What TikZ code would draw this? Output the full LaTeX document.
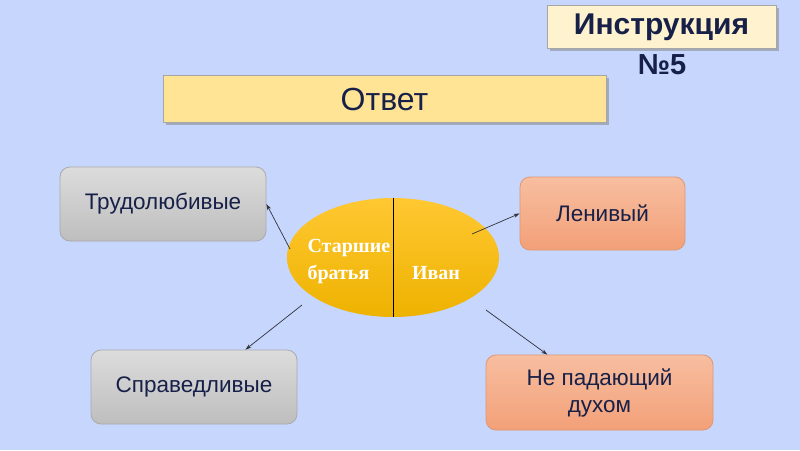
\documentclass[tikz,border=0pt]{standalone}
\usepackage{fontspec}
\setmainfont{Liberation Sans}
\newfontfamily\serifb{Liberation Serif}
\usetikzlibrary{shadows,arrows.meta,shapes.geometric}
\definecolor{bgc}{RGB}{198,214,252}
\definecolor{navy}{RGB}{22,32,72}
\definecolor{titlefill}{RGB}{255,242,206}
\definecolor{ansfill}{RGB}{255,228,150}
\definecolor{graytop}{RGB}{220,220,220}
\definecolor{graybot}{RGB}{190,190,190}
\definecolor{graybd}{RGB}{170,170,170}
\definecolor{saltop}{RGB}{247,190,160}
\definecolor{salbot}{RGB}{243,160,120}
\definecolor{salbd}{RGB}{225,150,115}
\definecolor{elltop}{RGB}{255,200,50}
\definecolor{ellbot}{RGB}{238,178,0}
\definecolor{arrc}{RGB}{50,50,60}
\tikzset{
  hdrbox/.style={draw=black!35, line width=0.6pt, fill=#1,
    drop shadow={shadow xshift=2.5pt, shadow yshift=-2.5pt, opacity=0.5}},
  graybox/.style={draw=graybd, line width=0.8pt, rounded corners=10pt,
    top color=graytop, bottom color=graybot, minimum width=206pt, minimum height=74pt,
    text=navy, font=\fontsize{22.5}{27}\selectfont, align=center},
  salbox/.style={draw=salbd, line width=0.8pt, rounded corners=10pt,
    top color=saltop, bottom color=salbot,
    text=navy, font=\fontsize{22.5}{27}\selectfont, align=center},
  conn/.style={draw=arrc, line width=0.7pt, -{Stealth[length=6pt,width=4pt]}},
  elltext/.style={text=white, font=\serifb\bfseries\fontsize{20}{27}\selectfont, align=left}
}
\begin{document}
\begin{tikzpicture}[x=1pt,y=-1pt]
\fill[bgc] (0,0) rectangle (800,450);
\useasboundingbox (0,0) rectangle (800,450);
% title
\node[hdrbox=titlefill, minimum width=229pt, minimum height=43pt] (title) at (661.5,26.5) {};
\node[text=navy, font=\bfseries\fontsize{30}{32}\selectfont] (titletxt) at (661.5,27) {Инструкция};
\node[text=navy, font=\bfseries\fontsize{29}{31}\selectfont] (num) at (662,65) {№5};
% answer
\node[hdrbox=ansfill, minimum width=443pt, minimum height=47pt] (ans) at (384.5,98.5) {};
\node[text=navy, font=\fontsize{32}{34}\selectfont] (anstxt) at (384.5,99) {Ответ};
% ellipse
\node[ellipse, top color=elltop, bottom color=ellbot, minimum width=212pt, minimum height=119pt, inner sep=0pt] (ell) at (393,257.5) {};
\draw[black, line width=1pt] (ell.north) -- (ell.south);
\node[elltext, anchor=west] (older) at (304,262) {Старшие\\братья};
\node[elltext] (ivan) at (436,273) {Иван};
% boxes
\node[graybox] (trud) at (163,204) {Трудолюбивые};
\node[graybox] (sprav) at (194,387) {Справедливые};
\node[salbox, minimum width=165pt, minimum height=73pt] (len) at (602.5,213.5) {Ленивый};
\node[salbox, minimum width=227pt, minimum height=75pt] (dukh) at (599.5,392.5) {Не падающий\\духом};
% connectors
\coordinate (s1) at (290,249);
\coordinate (s2) at (472,234);
\coordinate (s3) at (302,305);
\coordinate (s4) at (486,310);
\draw[conn] (s1) -- (trud.east);
\draw[conn] (s2) -- (len.west);
\draw[conn] (s3) -- (sprav.36);
\draw[conn] (s4) -- (dukh.144);
\end{tikzpicture}
\end{document}
